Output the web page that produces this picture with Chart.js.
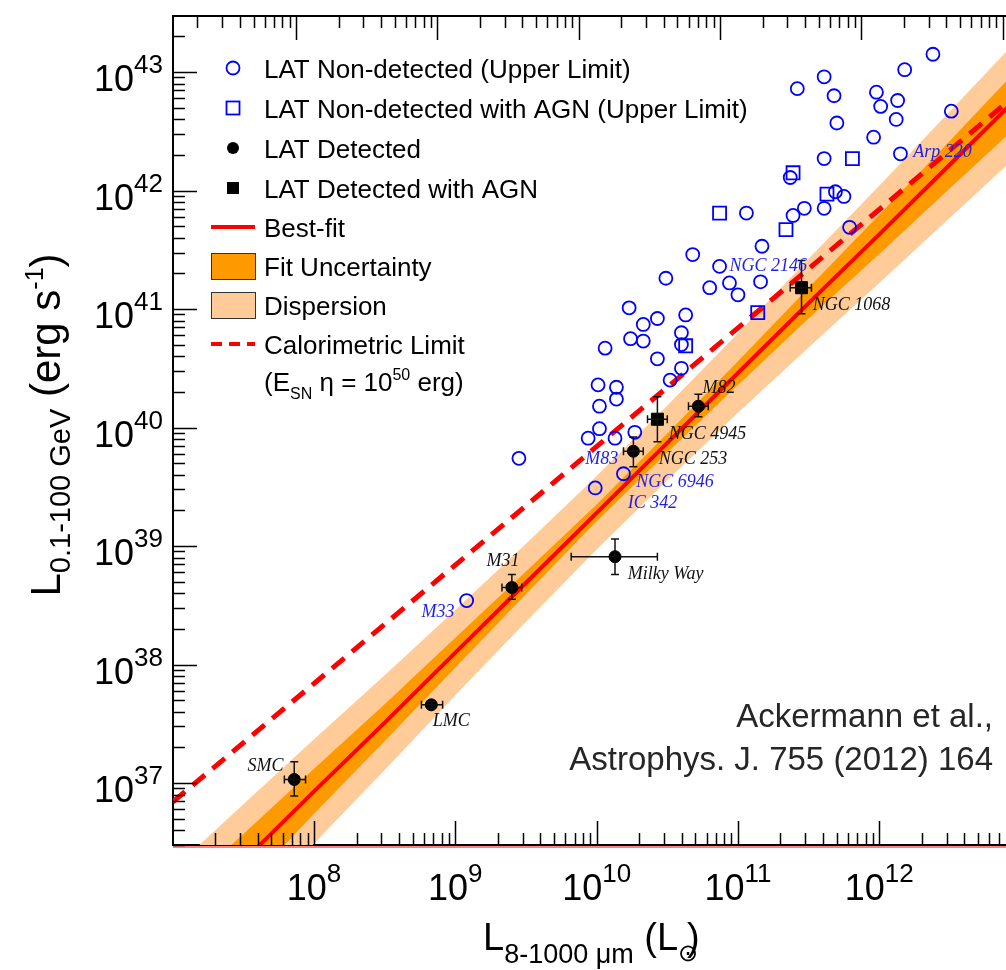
<!DOCTYPE html>
<html>
<head>
  <meta charset="utf-8">
  <script src="https://cdn.jsdelivr.net/npm/chart.js"></script>
  <style>
    body { margin: 0; background: #fff; }
    canvas { display: block; }
  </style>
</head>
<body>
  <canvas id="lumChart" width="1006" height="970"></canvas>
<script>
"use strict";

// all values are log10: L_IR in L_sun, L_gamma in erg/s
// LAT non-detected galaxies (upper limits)
const ulLogIR = [12.38, 12.18, 11.61, 11.42, 11.68, 11.98, 12.13, 12.01, 12.51, 11.70,
                 12.12, 11.96, 12.15, 11.61, 11.37, 11.69, 11.75, 11.06, 11.47, 11.39,
                 11.61, 11.79, 11.17, 10.68, 10.87, 10.49, 10.80, 10.94, 11.00, 11.16,
                 10.23, 10.33, 10.43, 10.63, 10.06, 10.24, 10.33, 10.60, 10.60, 10.43,
                 10.60, 10.52, 10.01, 10.14, 10.02, 10.14, 10.02, 9.94, 10.13, 10.27,
                 9.45, 10.19, 9.99, 9.08];
const ulLogG = [43.15, 43.02, 42.96, 42.86, 42.80, 42.83, 42.76, 42.71, 42.67, 42.57,
                42.60, 42.45, 42.31, 42.27, 42.11, 41.99, 41.95, 41.81, 41.85, 41.79,
                41.85, 41.69, 41.53, 41.46, 41.36, 41.26, 41.18, 41.22, 41.12, 41.23,
                41.01, 40.87, 40.92, 40.95, 40.67, 40.75, 40.73, 40.80, 40.70, 40.58,
                40.50, 40.40, 40.36, 40.34, 40.18, 40.24, 39.99, 39.91, 39.91, 39.96,
                39.74, 39.61, 39.49, 38.54];

// LAT non-detected with AGN (upper limits)
const ulAgnLogIR = [11.81, 11.39, 11.63, 10.87, 11.34, 11.14, 10.63];
const ulAgnLogG = [42.27, 42.15, 41.97, 41.81, 41.67, 40.97, 40.69];

// LAT detected: M82, NGC 253, Milky Way, M31, LMC, SMC
const detLogIR = [10.72, 10.26, 10.13, 9.40, 8.83, 7.86];
const detLogG = [40.18, 39.80, 38.91, 38.65, 37.66, 37.03];
const detIRLo = [10.65, 10.19, 9.82, 9.33, 8.76, 7.79];
const detIRHi = [10.79, 10.33, 10.43, 9.47, 8.91, 7.94];
const detGLo = [40.09, 39.67, 38.76, 38.55, 37.63, 36.89];
const detGHi = [40.28, 39.92, 39.06, 38.76, 37.69, 37.18];

// LAT detected with AGN: NGC 4945, NGC 1068
const agnLogIR = [10.43, 11.45];
const agnLogG = [40.07, 41.18];
const agnIRLo = [10.36, 11.37];
const agnIRHi = [10.50, 11.52];
const agnGLo = [39.88, 40.96];
const agnGHi = [40.26, 41.41];

// best fit, fit uncertainty and dispersion (half widths, dex)
const bandLogIR = [7, 7.5, 8, 8.5, 9, 9.5, 10, 10.5, 11, 11.5, 12, 12.5, 13];
const fitLogG = [35.75, 36.34, 36.93, 37.51, 38.10, 38.69, 39.28, 39.87, 40.46, 41.05, 41.63, 42.22, 42.81];
const fitUnc = [0.27, 0.23, 0.19, 0.155, 0.125, 0.095, 0.07, 0.08, 0.10, 0.13, 0.165, 0.20, 0.24];
const dispUnc = [0.52, 0.48, 0.44, 0.40, 0.36, 0.33, 0.31, 0.315, 0.335, 0.375, 0.41, 0.45, 0.49];

// calorimetric limit
const calLogIR = [7, 13];
const calLogG = [36.84, 42.84];

// galaxy name tags
const tagText = ['Arp 220', 'NGC 2146', 'NGC 1068', 'M82', 'NGC 4945', 'NGC 253', 'M83',
                 'NGC 6946', 'IC 342', 'Milky Way', 'M31', 'M33', 'LMC', 'SMC'];
const tagLogIR = [12.24, 10.94, 11.53, 10.75, 10.51, 10.44, 9.92, 10.28, 10.22, 10.22, 9.22, 8.76, 8.84, 7.53];
const tagLogG = [42.32, 41.36, 41.03, 40.33, 39.94, 39.73, 39.73, 39.54, 39.36, 38.76, 38.87, 38.44, 37.52, 37.14];
const tagBlue = [true, true, false, false, false, false, true, true, true, false, false, true, false, false];

const xTickExps = [8, 9, 10, 11, 12];
const yTickExps = [37, 38, 39, 40, 41, 42, 43];

const legendLabels = ['LAT Non-detected (Upper Limit)', 'LAT Non-detected with AGN (Upper Limit)',
  'LAT Detected', 'LAT Detected with AGN', 'Best-fit', 'Fit Uncertainty', 'Dispersion', 'Calorimetric Limit'];

const RED = '#ff0000';
const BLUE = '#0000ff';
const DARK_OR = '#ff9900';
const LIGHT_OR = '#ffcc99';
const FONT = '"Liberation Sans", Arial, Helvetica, sans-serif';
const SERIF = '"Liberation Serif", "Times New Roman", serif';
const f = px => px + 'px ' + FONT;

const toPts = (xs, ys) => xs.map((v, i) => ({x: Math.pow(10, v), y: Math.pow(10, ys[i])}));
const shift = (ys, ds, sign) => ys.map((v, i) => v + sign * ds[i]);

// draws a run of text pieces (for super/subscripts)
function drawRich(ctx, parts, x, y, align) {
  const adv = p => ctx.measureText(p.t).width * (p.adv === undefined ? 1 : p.adv);
  let w = 0;
  parts.forEach(p => { ctx.font = p.font; w += adv(p); });
  let cx = align === 'right' ? x - w : align === 'center' ? x - w / 2 : x;
  ctx.textAlign = 'left';
  ctx.textBaseline = 'alphabetic';
  parts.forEach(p => {
    ctx.font = p.font;
    ctx.fillText(p.t, cx, y + (p.dy || 0));
    cx += adv(p);
  });
}

function logTicks(ctx, scale, area, side) {
  const lo = Math.floor(Math.log10(scale.min));
  const hi = Math.ceil(Math.log10(scale.max));
  ctx.beginPath();
  for (let e = lo; e <= hi; e++) {
    for (let m = 1; m <= 9; m++) {
      const v = m * Math.pow(10, e);
      if (v < scale.min || v > scale.max) continue;
      const p = Math.round(scale.getPixelForValue(v)) + 0.5;
      const len = m === 1 ? 24 : 12;
      if (side === 'left') { ctx.moveTo(area.left, p); ctx.lineTo(area.left + len, p); }
      else if (side === 'bottom') { ctx.moveTo(p, area.bottom); ctx.lineTo(p, area.bottom - len); }
      else { ctx.moveTo(p, area.top); ctx.lineTo(p, area.top + len); }
    }
  }
  ctx.stroke();
}

const errorBars = {
  id: 'errorBars',
  afterDatasetsDraw(chart) {
    const ctx = chart.ctx;
    const {x, y} = chart.scales;
    const a = chart.chartArea;
    const bar = (lx, gx, xl, xh, gl, gh) => {
      const px = x.getPixelForValue(Math.pow(10, lx));
      const py = y.getPixelForValue(Math.pow(10, gx));
      const x1 = x.getPixelForValue(Math.pow(10, xl));
      const x2 = x.getPixelForValue(Math.pow(10, xh));
      const y1 = y.getPixelForValue(Math.pow(10, gl));
      const y2 = y.getPixelForValue(Math.pow(10, gh));
      ctx.beginPath();
      ctx.moveTo(x1, py); ctx.lineTo(x2, py);
      ctx.moveTo(x1, py - 4); ctx.lineTo(x1, py + 4);
      ctx.moveTo(x2, py - 4); ctx.lineTo(x2, py + 4);
      ctx.moveTo(px, y1); ctx.lineTo(px, y2);
      ctx.moveTo(px - 4, y1); ctx.lineTo(px + 4, y1);
      ctx.moveTo(px - 4, y2); ctx.lineTo(px + 4, y2);
      ctx.stroke();
    };
    ctx.save();
    ctx.beginPath();
    ctx.rect(a.left, a.top, a.right - a.left, a.bottom - a.top);
    ctx.clip();
    ctx.strokeStyle = '#111';
    ctx.lineWidth = 1.5;
    detLogIR.forEach((v, i) => bar(v, detLogG[i], detIRLo[i], detIRHi[i], detGLo[i], detGHi[i]));
    agnLogIR.forEach((v, i) => bar(v, agnLogG[i], agnIRLo[i], agnIRHi[i], agnGLo[i], agnGHi[i]));
    ctx.restore();
  }
};

const decorations = {
  id: 'decorations',
  afterDraw(chart) {
    const ctx = chart.ctx;
    const {x, y, xTop} = chart.scales;
    const a = chart.chartArea;
    ctx.save();

    // thin red trace under the bottom axis (clipped fit line)
    ctx.strokeStyle = RED;
    ctx.lineWidth = 1;
    ctx.beginPath(); ctx.moveTo(a.left, a.bottom + 2); ctx.lineTo(a.right, a.bottom + 2); ctx.stroke();

    // inward tick marks
    ctx.strokeStyle = '#000';
    ctx.lineWidth = 1.5;
    logTicks(ctx, y, a, 'left');
    logTicks(ctx, x, a, 'bottom');
    logTicks(ctx, xTop, a, 'top');

    // tick labels
    ctx.fillStyle = '#000';
    yTickExps.forEach(e => {
      const py = y.getPixelForValue(Math.pow(10, e));
      drawRich(ctx, [{t: '10', font: f(36)}, {t: String(e), font: f(26), dy: -18}], 163, py + 19, 'right');
    });
    xTickExps.forEach(e => {
      const px = x.getPixelForValue(Math.pow(10, e));
      drawRich(ctx, [{t: '10', font: f(36)}, {t: String(e), font: f(26), dy: -18}], px, 900, 'center');
    });

    // axis titles
    drawRich(ctx, [
      {t: 'L', font: f(38)},
      {t: '8-1000 \u03bcm', font: f(27), dy: 13},
      {t: ' (L', font: f(38)},
      {t: '\u2299', font: f(24), dy: 11, adv: 0.45},
      {t: ')', font: f(38)}
    ], 483, 950, 'left');
    ctx.save();
    ctx.translate(60, 425);
    ctx.rotate(-Math.PI / 2);
    drawRich(ctx, [
      {t: 'L', font: f(42)},
      {t: '0.1-100 GeV', font: f(29), dy: 10},
      {t: ' (erg s', font: f(42)},
      {t: '-1', font: f(25), dy: -17},
      {t: ')', font: f(42)}
    ], 0, 0, 'center');
    ctx.restore();

    // galaxy tags
    ctx.font = 'italic 18px ' + SERIF;
    ctx.textAlign = 'left';
    ctx.textBaseline = 'middle';
    tagText.forEach((t, i) => {
      ctx.fillStyle = tagBlue[i] ? '#1f1fe8' : '#111';
      ctx.fillText(t, x.getPixelForValue(Math.pow(10, tagLogIR[i])), y.getPixelForValue(Math.pow(10, tagLogG[i])));
    });

    // reference
    ctx.fillStyle = '#262626';
    ctx.font = f(33);
    ctx.textAlign = 'right';
    ctx.textBaseline = 'alphabetic';
    ctx.fillText('Ackermann et al.,', 993, 727);
    ctx.fillText('Astrophys. J. 755 (2012) 164', 993, 770);

    // legend
    const mx = 233, tx = 264;
    const rows = [68, 108, 148, 188, 227, 266, 305, 344];
    ctx.lineWidth = 1.8;
    ctx.strokeStyle = BLUE;
    ctx.beginPath(); ctx.arc(mx, rows[0], 6.5, 0, Math.PI * 2); ctx.stroke();
    ctx.strokeRect(mx - 6.5, rows[1] - 6.5, 13, 13);
    ctx.fillStyle = '#000';
    ctx.beginPath(); ctx.arc(mx, rows[2], 6, 0, Math.PI * 2); ctx.fill();
    ctx.fillRect(mx - 6, rows[3] - 6, 12, 12);
    ctx.strokeStyle = RED;
    ctx.lineWidth = 4;
    ctx.beginPath(); ctx.moveTo(211, rows[4]); ctx.lineTo(255, rows[4]); ctx.stroke();
    ctx.setLineDash([11, 7]);
    ctx.beginPath(); ctx.moveTo(211, rows[7]); ctx.lineTo(255, rows[7]); ctx.stroke();
    ctx.setLineDash([]);
    ctx.lineWidth = 1;
    ctx.strokeStyle = '#333';
    ctx.fillStyle = DARK_OR;
    ctx.fillRect(211, rows[5] - 13, 44, 26); ctx.strokeRect(211.5, rows[5] - 12.5, 44, 26);
    ctx.fillStyle = LIGHT_OR;
    ctx.fillRect(211, rows[6] - 13, 44, 26); ctx.strokeRect(211.5, rows[6] - 12.5, 44, 26);

    ctx.fillStyle = '#000';
    ctx.font = f(26);
    ctx.textAlign = 'left';
    ctx.textBaseline = 'alphabetic';
    legendLabels.forEach((t, i) => ctx.fillText(t, tx, rows[i] + 9.5));
    drawRich(ctx, [
      {t: '(E', font: f(26)},
      {t: 'SN', font: f(16), dy: 8},
      {t: ' \u03b7 = 10', font: f(26)},
      {t: '50', font: f(16), dy: -11},
      {t: ' erg)', font: f(26)}
    ], tx, 391, 'left');

    ctx.restore();
  }
};

const zeroHeight = scale => { scale.height = 0; };
const zeroWidth = scale => { scale.width = 0; };
const axisBase = {
  type: 'logarithmic',
  z: 1,
  grid: {drawOnChartArea: false, drawTicks: false},
  border: {display: true, color: '#000', width: 2},
  ticks: {display: false}
};

const lineSet = (data, extra) => Object.assign({
  type: 'line',
  data: data,
  pointRadius: 0,
  borderWidth: 0,
  tension: 0,
  fill: false
}, extra);

new Chart(document.getElementById('lumChart'), {
  type: 'scatter',
  data: {
    datasets: [
      lineSet(toPts(bandLogIR, shift(fitLogG, dispUnc, 1)), {fill: 1, backgroundColor: LIGHT_OR, order: 20}),
      lineSet(toPts(bandLogIR, shift(fitLogG, dispUnc, -1)), {order: 19}),
      lineSet(toPts(bandLogIR, shift(fitLogG, fitUnc, 1)), {fill: 3, backgroundColor: DARK_OR, order: 18}),
      lineSet(toPts(bandLogIR, shift(fitLogG, fitUnc, -1)), {order: 17}),
      lineSet(toPts(bandLogIR, fitLogG), {borderColor: RED, borderWidth: 4, order: 10}),
      lineSet(toPts(calLogIR, calLogG), {borderColor: RED, borderWidth: 5, borderDash: [16, 10], order: 9}),
      {
        data: toPts(ulLogIR, ulLogG),
        pointStyle: 'circle', pointRadius: 6.5, borderWidth: 1.8,
        borderColor: BLUE, backgroundColor: 'rgba(0,0,0,0)', order: 4
      },
      {
        data: toPts(ulAgnLogIR, ulAgnLogG),
        pointStyle: 'rect', pointRadius: 9.2, borderWidth: 1.8,
        borderColor: BLUE, backgroundColor: 'rgba(0,0,0,0)', order: 3
      },
      {
        data: toPts(detLogIR, detLogG),
        pointStyle: 'circle', pointRadius: 6, borderWidth: 1,
        borderColor: '#000', backgroundColor: '#000', order: 2
      },
      {
        data: toPts(agnLogIR, agnLogG),
        pointStyle: 'rect', pointRadius: 8.5, borderWidth: 1,
        borderColor: '#000', backgroundColor: '#000', order: 1
      }
    ]
  },
  options: {
    responsive: false,
    devicePixelRatio: 1,
    animation: false,
    layout: {autoPadding: false, padding: {left: 173, top: 16, right: 0, bottom: 125}},
    plugins: {legend: {display: false}, tooltip: {enabled: false}},
    scales: {
      x: Object.assign({}, axisBase, {
        position: 'bottom', min: Math.pow(10, 7.002), max: Math.pow(10, 12.897), afterFit: zeroHeight
      }),
      xTop: Object.assign({}, axisBase, {
        position: 'top', min: Math.pow(10, 7.129), max: Math.pow(10, 13.024), afterFit: zeroHeight
      }),
      y: Object.assign({}, axisBase, {
        position: 'left', min: Math.pow(10, 36.477), max: Math.pow(10, 43.473), afterFit: zeroWidth
      })
    }
  },
  plugins: [errorBars, decorations]
});
</script>
</body>
</html>
